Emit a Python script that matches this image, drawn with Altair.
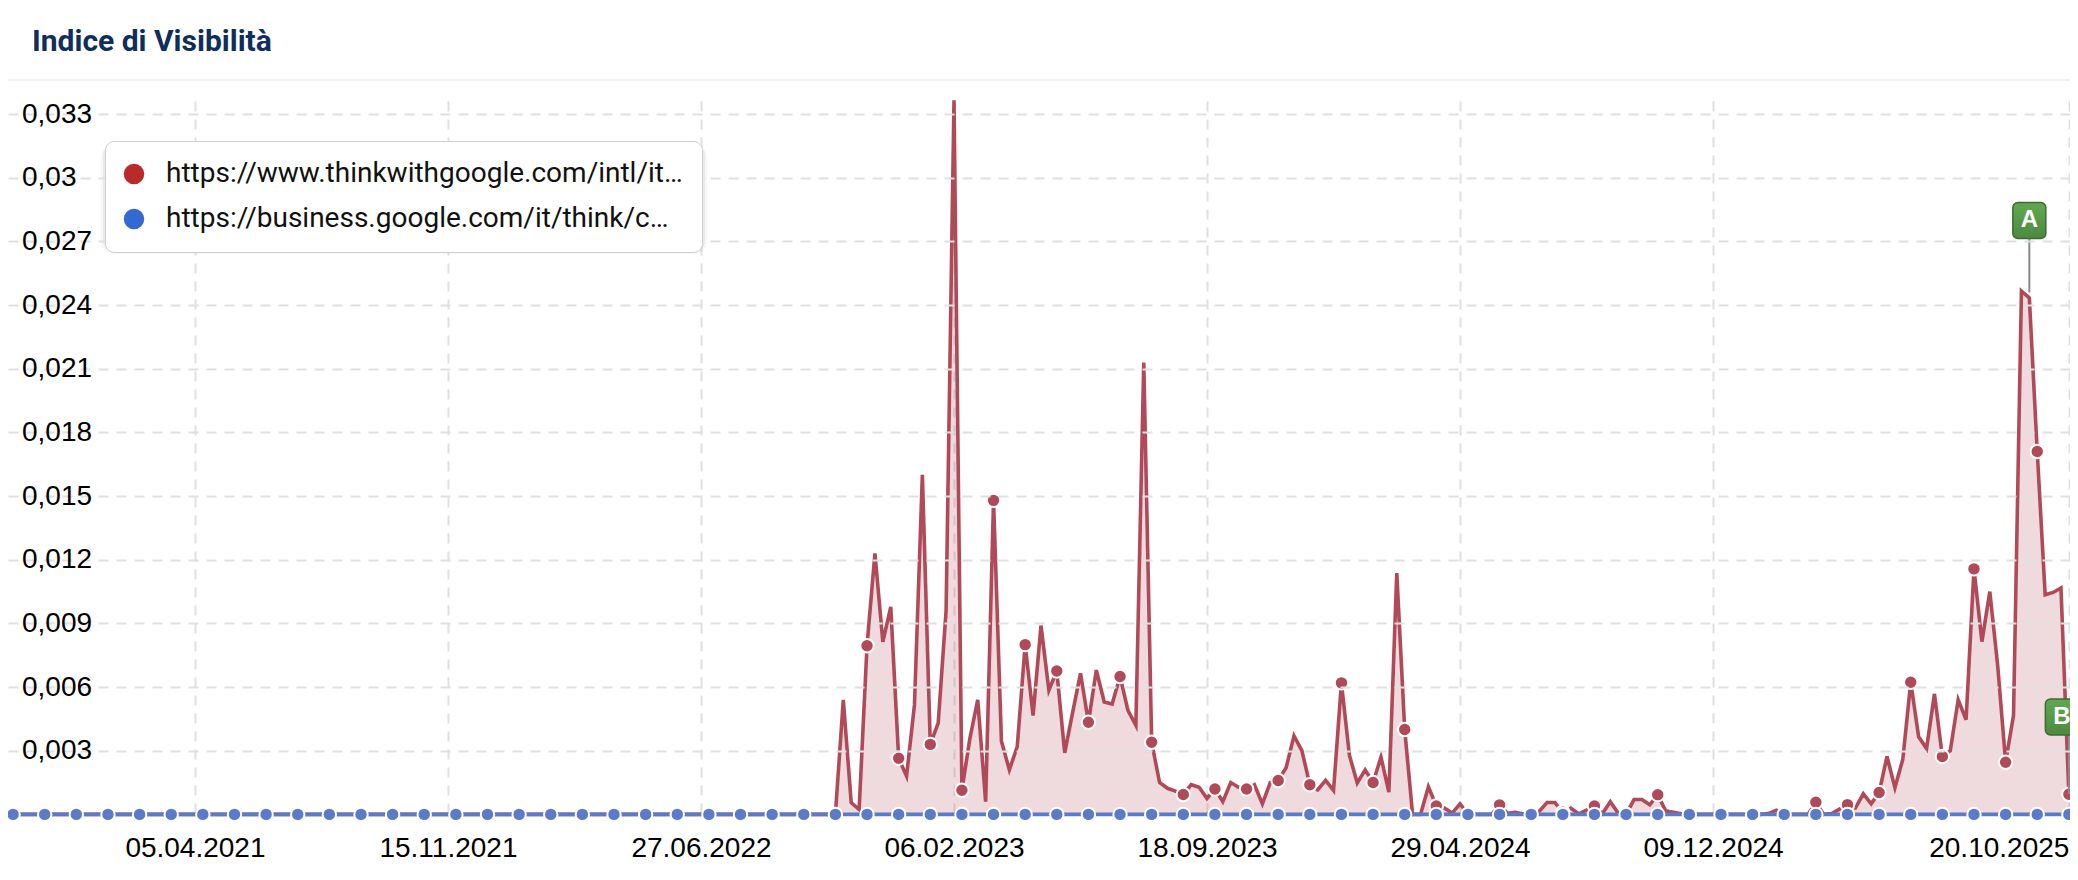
import altair as alt
import pandas as pd

week_start = "2020-10-19"
week_count = 263

red_values = [0.0] * 106 + [
    0.0054, 0.00055, 0.00023, 0.00795, 0.0123, 0.00813, 0.00978, 0.00265, 0.0018, 0.00516,
    0.016, 0.0033, 0.0043, 0.0096, 0.03365, 0.00114, 0.00356, 0.0054, 0.0006, 0.0148,
    0.00345, 0.0021, 0.0032, 0.008, 0.00466, 0.0089, 0.00585, 0.00676, 0.0029, 0.0048,
    0.00665, 0.00434, 0.0068, 0.0053, 0.0052, 0.0065, 0.0049, 0.0042, 0.0213, 0.0034,
    0.0015, 0.00123, 0.0011, 0.00094, 0.0014, 0.00128, 0.00075, 0.0012, 0.0006, 0.0015,
    0.00128, 0.0012, 0.0014, 0.0005, 0.0015, 0.0016, 0.0022, 0.0037, 0.003, 0.0014,
    0.00116, 0.0016, 0.00113, 0.0062, 0.0028, 0.00148, 0.0021, 0.0015, 0.0027, 0.00105,
    0.01137, 0.004, 0.0, 0.0, 0.0013, 0.0004, 0.0003, 0.00006, 0.0005, 0.0,
    0.0, 0.0, 0.0, 0.00045, 0.00005, 0.0001, 0.00002, 0.0, 0.00014, 0.00056,
    0.00056, 0.0001, 0.0003, 0.00003, 0.0002, 0.0004, 0.00003, 0.0006, 0.00006, 0.0,
    0.0007, 0.0007, 0.00045, 0.00093, 0.00017, 0.0001, 0.00003, 0.0, 0.0, 0.0,
    0.0, 0.0, 0.0, 0.0, 0.0, 0.0, 0.0, 0.00004, 0.0002, 0.0,
    0.0, 0.0, 0.0, 0.00057, 0.0, 0.00004, 0.00025, 0.00046, 0.0003, 0.00097,
    0.0005, 0.00103, 0.00273, 0.00126, 0.0026, 0.00623, 0.00366, 0.0031, 0.00568, 0.00273,
    0.003, 0.0054, 0.00446, 0.01157, 0.00814, 0.0105, 0.007, 0.00246, 0.00467, 0.02466,
    0.02434, 0.0171, 0.01035, 0.01046, 0.01067, 0.00095, 0.0009,
]
blue_values = [0.0] * week_count

series_names = [
    "https://www.thinkwithgoogle.com/intl/it…",
    "https://business.google.com/it/think/c…",
]
y_ticks = [0.003, 0.006, 0.009, 0.012, 0.015, 0.018, 0.021, 0.024, 0.027, 0.03, 0.033]
y_labels = ["0,003", "0,006", "0,009", "0,012", "0,015", "0,018", "0,021", "0,024", "0,027", "0,03", "0,033"]
x_ticks = ["2021-04-05", "2021-11-15", "2022-06-27", "2023-02-06", "2023-09-18", "2024-04-29", "2024-12-09", "2025-10-20"]

flag_dates = ["2025-09-15", "2025-10-20"]
flag_tips = [0.0246, 0.00095]
flag_centers = [0.02799, 0.00459]
flag_letters = ["A", "B"]

RED = "#b14a58"
BLUE = "#5b7bc8"

df = pd.DataFrame({
    "date": pd.date_range(week_start, periods=week_count, freq="7D").strftime("%Y-%m-%d"),
    "red": red_values,
    "blue": blue_values,
})
markers = df.iloc[1::4]
ticks_df = pd.DataFrame({"value": y_ticks, "label": y_labels})
flags_df = pd.DataFrame({"date": flag_dates, "tip": flag_tips, "center": flag_centers, "letter": flag_letters})
legend_df = pd.DataFrame({"date": [week_start] * 2, "series": series_names, "zero": [0, 0]})

x_scale = alt.Scale(type="utc", domain=["2020-10-21T12:00:00", "2025-10-21T00:00:00"])
y_scale = alt.Scale(domain=[0, 0.03362], nice=False)

x_enc = alt.X("date:T", scale=x_scale, title=None, axis=alt.Axis(
    values=x_ticks,
    labelExpr="utcFormat(datum.value, '%d.%m.%Y')",
    labelAlign=alt.expr("datum.value >= 1760000000000 ? 'right' : 'center'"),
    labelFont="Liberation Sans",
    labelFontSize=28,
    labelColor="#000",
    labelPadding=20,
    labelOverlap=False,
    labelBound=False,
    labelFlush=False,
    ticks=False,
    domain=False,
    grid=True,
    gridColor="#e0e0e0",
    gridWidth=2,
    gridDash=[10, 8],
))
y_enc = alt.Y("red:Q", scale=y_scale, title=None, axis=alt.Axis(
    values=y_ticks,
    labelExpr="replace(format(datum.value, '.3~f'), '.', ',')",
    labelAlign="left",
    labelFont="Liberation Sans",
    labelFontSize=28,
    labelColor="#000",
    labelPadding=-13.5,
    labelOverlap=False,
    labelBound=False,
    ticks=False,
    domain=False,
    grid=True,
    gridColor="#e0e0e0",
    gridWidth=2,
    gridDash=[10, 8],
    zindex=1,
))

header_line = alt.Chart(legend_df.head(1)).mark_rule(color="#efefef", strokeWidth=2).encode(
    x=alt.value(0), x2=alt.value(2062), y=alt.value(-21)
)
title_text = alt.Chart(pd.DataFrame({"title": ["Indice di Visibilità"]})).mark_text(
    align="left", baseline="middle", font="Roboto", fontWeight="bold", fontSize=30, color="#0f2e5c"
).encode(x=alt.value(24), y=alt.value(-59), text="title:N")

label_halo = alt.Chart(ticks_df).mark_text(
    align="left", font="Liberation Sans", fontSize=28, stroke="white", strokeWidth=8, color="white"
).encode(x=alt.value(13.5), y=alt.Y("value:Q", scale=y_scale), text="label:N")

shadow_outer = alt.Chart(legend_df.head(1)).mark_rect(color="#000", opacity=0.03, cornerRadius=12).encode(
    x=alt.value(93), x2=alt.value(699), y=alt.value(44), y2=alt.value(153)
)
shadow_inner = alt.Chart(legend_df.head(1)).mark_rect(color="#000", opacity=0.05, cornerRadius=10).encode(
    x=alt.value(95), x2=alt.value(697), y=alt.value(44), y2=alt.value(150)
)

area = alt.Chart(df).mark_area(color=RED, opacity=0.2).encode(x=x_enc, y=y_enc)
red_line = alt.Chart(df).mark_line(color=RED, strokeWidth=3.6, strokeJoin="miter").encode(
    x=alt.X("date:T", scale=x_scale), y=alt.Y("red:Q", scale=y_scale)
)
red_points = alt.Chart(markers).mark_point(
    filled=True, shape="circle", size=180, fill=RED, stroke="white", strokeWidth=2, opacity=1
).encode(x=alt.X("date:T", scale=x_scale), y=alt.Y("red:Q", scale=y_scale))
blue_line = alt.Chart(df).mark_line(color=BLUE, strokeWidth=3.6).encode(
    x=alt.X("date:T", scale=x_scale), y=alt.Y("blue:Q", scale=y_scale)
)
blue_points = alt.Chart(markers).mark_point(
    filled=True, shape="circle", size=180, fill=BLUE, stroke="white", strokeWidth=2, opacity=1
).encode(x=alt.X("date:T", scale=x_scale), y=alt.Y("blue:Q", scale=y_scale))

stems = alt.Chart(flags_df).mark_rule(color="#8a8a8a", strokeWidth=2).encode(
    x=alt.X("date:T", scale=x_scale), y=alt.Y("tip:Q", scale=y_scale), y2="center:Q"
)
flag_fill = alt.Gradient(
    gradient="linear", x1=0, x2=0, y1=0, y2=1,
    stops=[alt.GradientStop(color="#62a851", offset=0), alt.GradientStop(color="#4c8a3f", offset=1)],
)


# the last flag sits on the right edge, nudged left so its letter stays readable
def flag(row, nudge):
    box = alt.Chart(row).mark_rect(
        width=33, height=36, cornerRadius=5, fill=flag_fill, stroke="#3e6b33", strokeWidth=1.5, xOffset=nudge
    ).encode(x=alt.X("date:T", scale=x_scale), y=alt.Y("center:Q", scale=y_scale))
    letter = alt.Chart(row).mark_text(
        color="white", font="Liberation Sans", fontWeight="bold", fontSize=24, dx=nudge
    ).encode(x=alt.X("date:T", scale=x_scale), y=alt.Y("center:Q", scale=y_scale), text="letter:N")
    return box + letter


flag_a = flag(flags_df.iloc[:1], 0)
flag_b = flag(flags_df.iloc[1:], -7)

legend_layer = alt.Chart(legend_df).mark_point(filled=True, size=0).encode(
    x=alt.X("date:T", scale=x_scale),
    y=alt.Y("zero:Q", scale=y_scale),
    color=alt.Color(
        "series:N",
        sort=series_names,
        scale=alt.Scale(domain=series_names, range=["#bb2a2a", "#3569d2"]),
        legend=alt.Legend(
            title=None,
            orient="none",
            legendX=97,
            legendY=40,
            fillColor="white",
            strokeColor="#cfcfcf",
            cornerRadius=9,
            padding=19,
            symbolType="circle",
            symbolSize=420,
            symbolOpacity=1,
            symbolStrokeWidth=0,
            symbolOffset=-4,
            labelOffset=18,
            labelFont="Roboto",
            labelFontSize=28,
            labelColor="#111",
            labelLimit=700,
            rowPadding=17,
            zindex=2,
        ),
    ),
)

chart = alt.layer(
    header_line, title_text, area, label_halo, shadow_outer, shadow_inner,
    red_line, red_points, blue_line, blue_points,
    stems, flag_a, flag_b, legend_layer,
).properties(
    width=2062,
    height=713.4,
    padding={"left": 0, "top": 93, "right": 0, "bottom": 65.6},
    autosize=alt.AutoSizeParams(type="none"),
    background="white",
).configure_view(stroke=None)

chart.save("out.html", embed_options={"renderer": "svg", "actions": False})
